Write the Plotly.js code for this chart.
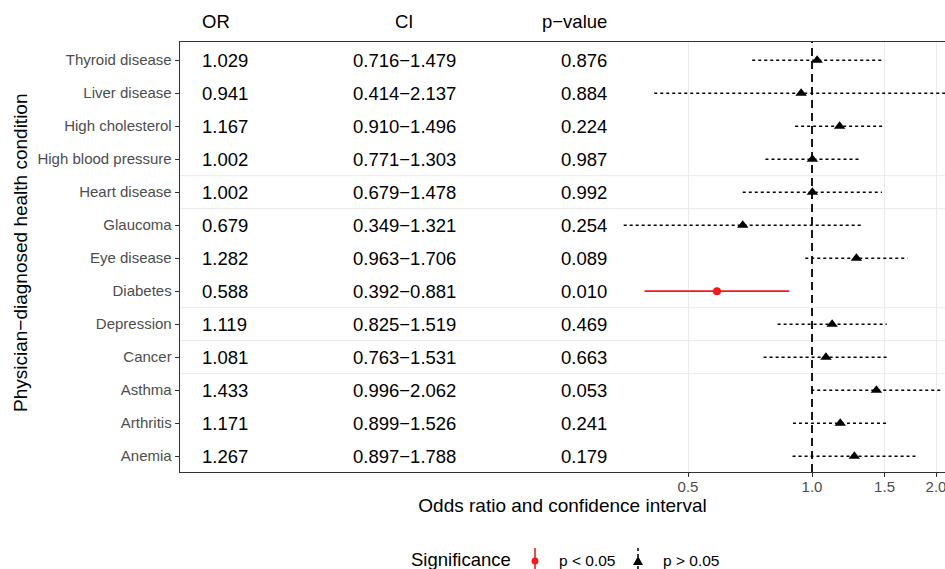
<!DOCTYPE html>
<html>
<head>
<meta charset="utf-8">
<script src="https://cdn.plot.ly/plotly-3.0.1.min.js"></script>
<style>html,body{margin:0;padding:0;background:#fff;}#chart{width:945px;height:569px;}</style>
</head>
<body>
<div id="chart"></div>
<script>
// ---- data (top to bottom as in the chart) ----
const conditions = ["Thyroid disease","Liver disease","High cholesterol","High blood pressure","Heart disease","Glaucoma","Eye disease","Diabetes","Depression","Cancer","Asthma","Arthritis","Anemia"];
const orValues = [1.029,0.941,1.167,1.002,1.002,0.679,1.282,0.588,1.119,1.081,1.433,1.171,1.267];
const ciLow    = [0.716,0.414,0.910,0.771,0.679,0.349,0.963,0.392,0.825,0.763,0.996,0.899,0.897];
const ciHigh   = [1.479,2.137,1.496,1.303,1.478,1.321,1.706,0.881,1.519,1.531,2.062,1.526,1.788];
const pValues  = [0.876,0.884,0.224,0.987,0.992,0.254,0.089,0.010,0.469,0.663,0.053,0.241,0.179];
const xTickVals = [0.5,1.0,1.5,2.0];
const xTickText = ["0.5","1.0","1.5","2.0"];
const rowSeparators = [2.5,3.5,4.5,7.5,8.5];

// ---- geometry ----
const W = 945, H = 569, L = 180, R = 0, T = 42, B = 97;
const pw = W - L - R, ph = H - T - B;
const px = v => (v - L) / pw;          // pixel x -> paper x
const py = v => (H - B - v) / ph;      // pixel y -> paper y
const pxPerLog10 = 124 / Math.log10(2);
const xr = [(L - 812) / pxPerLog10, (W - R - 812) / pxPerLog10];

const catOrder = conditions.slice().reverse();
const fmt = v => v.toFixed(3);
const minus = "\u2212";
const RED = "#f21a1a";

const traces = [];
conditions.forEach((c, i) => {
  const sig = pValues[i] < 0.05;
  traces.push({
    type: "scatter", mode: "lines", x: [ciLow[i], ciHigh[i]], y: [c, c],
    line: {color: sig ? RED : "#000", width: sig ? 1.6 : 1.5, dash: sig ? "solid" : "dot"},
    hoverinfo: "skip", showlegend: false
  });
});
const ns = conditions.map((c, i) => i).filter(i => pValues[i] >= 0.05);
const sg = conditions.map((c, i) => i).filter(i => pValues[i] < 0.05);
traces.push({
  type: "scatter", mode: "markers",
  x: ns.map(i => orValues[i]), y: ns.map(i => conditions[i]),
  marker: {symbol: "triangle-up", size: 10, color: "#000"}, showlegend: false
});
traces.push({
  type: "scatter", mode: "markers",
  x: sg.map(i => orValues[i]), y: sg.map(i => conditions[i]),
  marker: {symbol: "circle", size: 8, color: RED}, showlegend: false
});

const font = "Liberation Sans, Arial, Helvetica, sans-serif";
const VS = 18.5;
const annotations = [];
// headers
annotations.push({text: "OR", xref: "paper", yref: "paper", x: px(200), y: py(22), xanchor: "left", yanchor: "middle", showarrow: false, font: {family: font, size: VS, color: "#000"}});
annotations.push({text: "CI", xref: "paper", yref: "paper", x: px(404), y: py(22), xanchor: "center", yanchor: "middle", showarrow: false, font: {family: font, size: VS, color: "#000"}});
annotations.push({text: "p" + minus + "value", xref: "paper", yref: "paper", x: px(609), y: py(22), xanchor: "right", yanchor: "middle", showarrow: false, font: {family: font, size: VS, color: "#000"}});
conditions.forEach((c, i) => {
  annotations.push({text: fmt(orValues[i]), xref: "paper", yref: "y", x: px(200), y: c, xanchor: "left", yanchor: "middle", showarrow: false, font: {family: font, size: VS, color: "#000"}});
  annotations.push({text: fmt(ciLow[i]) + minus + fmt(ciHigh[i]), xref: "paper", yref: "y", x: px(404), y: c, xanchor: "center", yanchor: "middle", showarrow: false, font: {family: font, size: VS, color: "#000"}});
  annotations.push({text: fmt(pValues[i]), xref: "paper", yref: "y", x: px(609), y: c, xanchor: "right", yanchor: "middle", showarrow: false, font: {family: font, size: VS, color: "#000"}});
});
// y axis title
annotations.push({text: "Physician" + minus + "diagnosed health condition", xref: "paper", yref: "paper", x: px(20), y: py(253), textangle: -90, xanchor: "center", yanchor: "middle", showarrow: false, font: {family: font, size: 19, color: "#000"}});
// legend
annotations.push({text: "Significance", xref: "paper", yref: "paper", x: px(409), y: py(559), xanchor: "left", yanchor: "middle", showarrow: false, font: {family: font, size: 18.5, color: "#000"}});
annotations.push({text: "p < 0.05", xref: "paper", yref: "paper", x: px(557), y: py(560), xanchor: "left", yanchor: "middle", showarrow: false, font: {family: font, size: 15.5, color: "#000"}});
annotations.push({text: "p > 0.05", xref: "paper", yref: "paper", x: px(661), y: py(560), xanchor: "left", yanchor: "middle", showarrow: false, font: {family: font, size: 15.5, color: "#000"}});

const shapes = [];
rowSeparators.forEach(s => shapes.push({type: "line", xref: "paper", yref: "y", x0: 0, x1: 1, y0: s, y1: s, line: {color: "#ebebeb", width: 1}, layer: "below"}));
// reference line at OR = 1
shapes.push({type: "line", xref: "x", yref: "paper", x0: 1, x1: 1, y0: 0, y1: 1, line: {color: "#000", width: 1.8, dash: "8px,5px"}});
// legend key glyphs
shapes.push({type: "line", xref: "paper", yref: "paper", x0: px(535), x1: px(535), y0: py(548), y1: py(575), line: {color: RED, width: 1.6}});
shapes.push({type: "circle", xref: "paper", yref: "paper", x0: px(531.5), x1: px(538.5), y0: py(557.5), y1: py(564.5), fillcolor: RED, line: {width: 0}});
shapes.push({type: "line", xref: "paper", yref: "paper", x0: px(638), x1: px(638), y0: py(548), y1: py(575), line: {color: "#000", width: 1.5, dash: "dot"}});
shapes.push({type: "path", xref: "paper", yref: "paper", path: `M ${px(633)} ${py(565)} L ${px(643)} ${py(565)} L ${px(638)} ${py(556)} Z`, fillcolor: "#000", line: {width: 0}});

const layout = {
  width: W, height: H,
  margin: {l: L, r: R, t: T, b: B, pad: 0},
  paper_bgcolor: "#fff", plot_bgcolor: "#fff",
  font: {family: font},
  showlegend: false,
  xaxis: {
    type: "log", range: xr, tickmode: "array", tickvals: xTickVals, ticktext: xTickText,
    showgrid: true, gridcolor: "#ebebeb", gridwidth: 1, zeroline: false,
    showline: true, linecolor: "#333", linewidth: 1.3, mirror: true,
    ticks: "outside", ticklen: 4, tickcolor: "#333", tickwidth: 1,
    ticklabeloverflow: "allow", ticklabelstandoff: -3,
    tickfont: {family: font, size: 15, color: "#4d4d4d"},
    title: {text: "Odds ratio and confidence interval", font: {family: font, size: 19, color: "#000"}, standoff: 4},
    fixedrange: true
  },
  yaxis: {
    type: "category", categoryorder: "array", categoryarray: catOrder,
    range: [-0.48, 12.55], showgrid: false, zeroline: false,
    showline: true, linecolor: "#333", linewidth: 1.3, mirror: false,
    ticks: "outside", ticklen: 4, tickcolor: "#333", tickwidth: 1,
    tickfont: {family: font, size: 15, color: "#4d4d4d"},
    fixedrange: true
  },
  annotations: annotations,
  shapes: shapes
};
Plotly.newPlot("chart", traces, layout, {displayModeBar: false, staticPlot: true});
</script>
</body>
</html>
